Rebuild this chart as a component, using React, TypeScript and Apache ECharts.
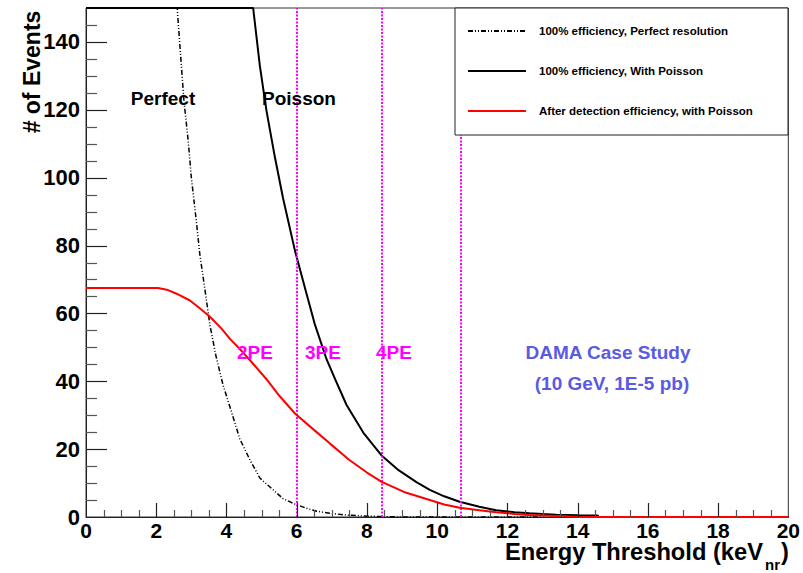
import React, { useEffect, useRef } from "react";
import * as echarts from "echarts";

// Expected events vs. energy threshold (keVnr)
const perfectPoints: [number, number][] = [
  [2.5, 170], [2.61, 148], [2.72, 132.4], [2.79, 122.6], [2.91, 110.9], [3.0, 100],
  [3.13, 88.3], [3.24, 77.5], [3.39, 66.8], [3.53, 56.5], [3.7, 47.5], [3.9, 39],
  [4.1, 32.4], [4.38, 23], [4.67, 16.8], [4.95, 11.5], [5.23, 8.9], [5.6, 5.5],
  [5.95, 3.8], [6.3, 2.5], [6.57, 1.7], [6.94, 1.1], [7.4, 0.6], [7.9, 0.3],
  [8.5, 0.1], [9.0, 0], [13.0, 0],
];

const poissonPoints: [number, number][] = [
  [0, 150], [4.76, 150], [4.95, 133], [5.14, 119.7], [5.38, 106], [5.61, 94],
  [5.95, 78.5], [6.28, 65.8], [6.51, 57], [6.85, 46.5], [7.1, 40.5], [7.42, 33],
  [7.9, 24.8], [8.41, 18.2], [8.9, 13.8], [9.41, 10.3], [9.79, 8], [10.2, 6.1],
  [10.64, 4.5], [11.2, 3.0], [11.68, 2.0], [12.2, 1.4], [12.63, 1.1], [13.0, 0.9],
  [13.39, 0.7], [14.0, 0.55], [14.57, 0.45], [14.6, 0], [20, 0],
];

const efficiencyPoints: [number, number][] = [
  [0, 67.5], [2.05, 67.5], [2.3, 67], [2.58, 65.8], [2.96, 63.8], [3.24, 61.5],
  [3.53, 59], [3.86, 55.5], [4.1, 52.5], [4.4, 49.3], [4.67, 46.2], [5.14, 40.6],
  [5.5, 35.8], [5.95, 30.5], [6.5, 25.6], [6.94, 21.7], [7.5, 16.8], [8.0, 13.1],
  [8.41, 10.4], [9.1, 7.2], [9.79, 5], [10.2, 3.7], [10.64, 2.7], [11.2, 2.0],
  [11.68, 1.4], [12.2, 0.9], [12.63, 0.6], [13.39, 0.3], [14.1, 0], [20, 0],
];

// photo-electron thresholds
const peThresholds = [6.0, 8.42, 10.66];
const peLabels = ["2PE", "3PE", "4PE"];

const seriesNames = [
  "100% efficiency, Perfect resolution",
  "100% efficiency, With Poisson",
  "After detection efficiency, with Poisson",
];

// axis ranges and tick spacing
const X_MIN = 0;
const X_MAX = 20;
const X_MAJOR = 2;
const X_MINOR = 0.5;
const Y_MIN = 0;
const Y_MAX = 150;
const Y_MAJOR = 20;
const Y_MINOR = 5;

const FONT = "'Liberation Sans', Arial, Helvetica, sans-serif";

const isMultiple = (v: number, step: number) =>
  Math.abs(v / step - Math.round(v / step)) < 1e-6;

export default function App() {
  const ref = useRef<HTMLDivElement>(null);

  useEffect(() => {
    if (!ref.current) return;
    const chart = echarts.init(ref.current, null, { renderer: "svg" });

    const boldText = (
      text: string,
      x: number,
      y: number,
      size: number,
      fill: string,
      align: string = "center"
    ) => ({
      type: "text",
      x,
      y,
      z: 120,
      style: {
        text,
        fill,
        font: `bold ${size}px ${FONT}`,
        align,
        verticalAlign: "middle",
      },
    });

    // tick positions along each axis: [value, on-axis value, major flag]
    const xTickData: number[][] = [];
    const nX = Math.round((X_MAX - X_MIN) / X_MINOR);
    for (let i = 1; i < nX; i++) {
      const v = X_MIN + i * X_MINOR;
      xTickData.push([v, Y_MIN, isMultiple(v, X_MAJOR) ? 1 : 0]);
    }
    const yTickData: number[][] = [];
    const nY = Math.round((Y_MAX - Y_MIN) / Y_MINOR);
    for (let i = 1; i < nY; i++) {
      const v = Y_MIN + i * Y_MINOR;
      yTickData.push([X_MIN, v, isMultiple(v, Y_MAJOR) ? 1 : 0]);
    }

    const renderXTick = (_params: any, api: any) => {
      const p = api.coord([api.value(0), api.value(1)]);
      const major = api.value(2) === 1;
      const len = major ? 14 : 7;
      const x = Math.round(p[0]) + 0.5;
      return {
        type: "line",
        shape: { x1: x, y1: p[1], x2: x, y2: p[1] - len },
        style: { stroke: major ? "#222" : "#555", lineWidth: 1.2 },
      };
    };
    const renderYTick = (_params: any, api: any) => {
      const p = api.coord([api.value(0), api.value(1)]);
      const major = api.value(2) === 1;
      const len = major ? 21 : 11;
      const y = Math.round(p[1]) + 0.5;
      return {
        type: "line",
        shape: { x1: p[0], y1: y, x2: p[0] + len, y2: y },
        style: { stroke: major ? "#222" : "#555", lineWidth: 1.2 },
      };
    };

    chart.setOption({
      animation: false,
      backgroundColor: "#ffffff",
      grid: {
        left: 86,
        right: 14,
        top: 8,
        bottom: 56,
        show: true,
        borderColor: "#333",
        borderWidth: 1,
        backgroundColor: "transparent",
      },
      xAxis: {
        type: "value",
        min: X_MIN,
        max: X_MAX,
        interval: X_MAJOR,
        axisLine: { show: true, onZero: false, lineStyle: { color: "#222", width: 1 } },
        axisTick: { show: false },
        minorTick: { show: false },
        splitLine: { show: false },
        axisLabel: {
          margin: 5,
          color: "#000",
          fontFamily: FONT,
          fontWeight: "bold",
          fontSize: 21,
          lineHeight: 16,
        },
      },
      yAxis: {
        type: "value",
        min: Y_MIN,
        max: Y_MAX,
        interval: Y_MAJOR,
        axisLine: { show: true, onZero: false, lineStyle: { color: "#222", width: 1 } },
        axisTick: { show: false },
        minorTick: { show: false },
        splitLine: { show: false },
        axisLabel: {
          margin: 6,
          showMaxLabel: false,
          color: "#000",
          fontFamily: FONT,
          fontWeight: "bold",
          fontSize: 22,
        },
      },
      legend: {
        orient: "vertical",
        left: 467,
        top: 25,
        padding: 0,
        itemWidth: 58,
        itemHeight: 14,
        itemGap: 28,
        z: 200,
        data: seriesNames,
        itemStyle: { opacity: 0 },
        textStyle: {
          color: "#000",
          fontFamily: FONT,
          fontWeight: "bold",
          fontSize: 11.5,
          padding: [0, 0, 0, 8],
        },
      },
      series: [
        {
          name: seriesNames[0],
          type: "line",
          symbol: "none",
          data: perfectPoints,
          lineStyle: { color: "#000", width: 1.5, type: [5, 2, 1, 2, 1, 2] },
          itemStyle: { color: "#000" },
          z: 3,
        },
        {
          name: seriesNames[1],
          type: "line",
          symbol: "none",
          data: poissonPoints,
          lineStyle: { color: "#000", width: 2 },
          itemStyle: { color: "#000" },
          z: 4,
          markLine: {
            silent: true,
            symbol: "none",
            label: { show: false },
            lineStyle: { color: "#ff00ff", width: 2, type: [2, 1.5] },
            data: peThresholds.map((x) => ({ xAxis: x })),
          },
        },
        {
          name: seriesNames[2],
          type: "line",
          symbol: "none",
          data: efficiencyPoints,
          lineStyle: { color: "#ff0000", width: 2 },
          itemStyle: { color: "#ff0000" },
          z: 5,
        },
        {
          name: "x ticks",
          type: "custom",
          silent: true,
          clip: false,
          z: 10,
          data: xTickData,
          encode: { x: 0, y: 1 },
          renderItem: renderXTick,
        },
        {
          name: "y ticks",
          type: "custom",
          silent: true,
          clip: false,
          z: 10,
          data: yTickData,
          encode: { x: 0, y: 1 },
          renderItem: renderYTick,
        },
      ],
      graphic: [
        {
          type: "rect",
          z: 150,
          shape: { x: 455, y: 8, width: 333, height: 127 },
          style: { fill: "#ffffff", stroke: "#222", lineWidth: 1 },
        },
        boldText("Perfect", 163, 98, 19, "#000"),
        boldText("Poisson", 299, 98, 19, "#000"),
        boldText(peLabels[0], 255, 352, 19, "#ff00ff"),
        boldText(peLabels[1], 323, 352, 19, "#ff00ff"),
        boldText(peLabels[2], 394, 352, 19, "#ff00ff"),
        boldText("DAMA Case Study", 608, 352, 19, "#5a5ae2"),
        boldText("(10 GeV, 1E-5 pb)", 612, 383, 19, "#5a5ae2"),
        {
          type: "text",
          x: 32,
          y: 72,
          rotation: Math.PI / 2,
          z: 120,
          style: {
            text: "# of Events",
            fill: "#000",
            font: `bold 23px ${FONT}`,
            align: "center",
            verticalAlign: "middle",
          },
        },
        boldText("Energy Threshold (keV", 763, 552, 23.7, "#000", "right"),
        boldText("nr", 765, 564, 15, "#000", "left"),
        boldText(")", 781, 552, 23.7, "#000", "left"),
      ],
    });

    return () => chart.dispose();
  }, []);

  return (
    <div
      ref={ref}
      style={{ position: "absolute", left: 0, top: 0, width: 803, height: 573 }}
    />
  );
}
